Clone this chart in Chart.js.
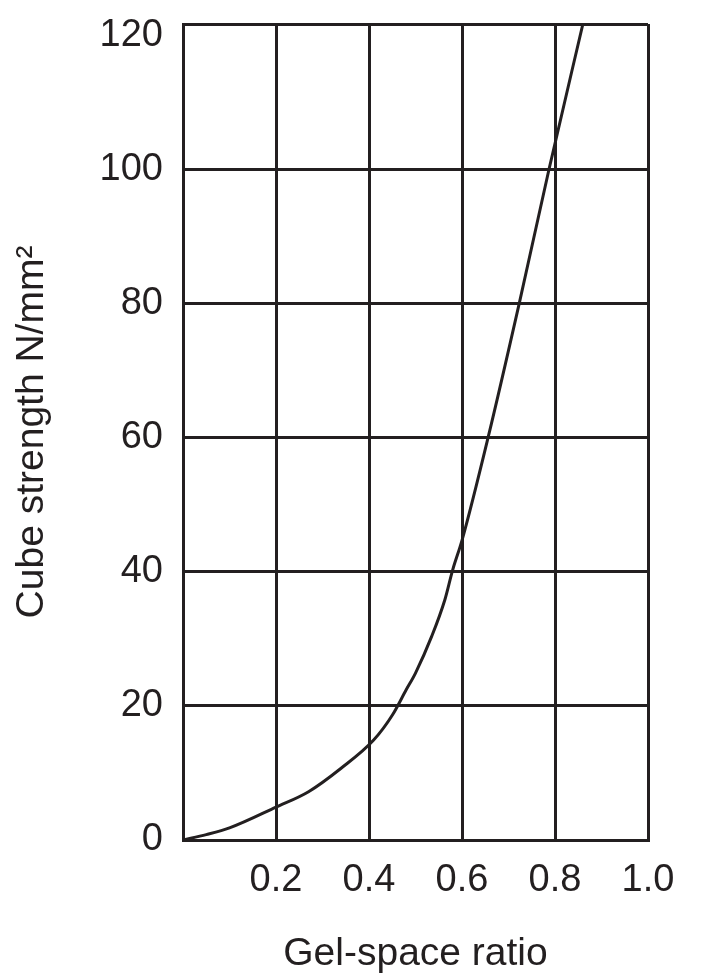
<!DOCTYPE html>
<html>
<head>
<meta charset="utf-8">
<script src="https://cdn.jsdelivr.net/npm/chart.js@4.4.0/dist/chart.umd.min.js"></script>
<style>
  body { margin: 0; background: #fff; }
  canvas { display: block; }
</style>
</head>
<body>
<canvas id="chart" width="720" height="978"></canvas>
<script>
// curve
var gelSpaceRatio = [0, 0.05, 0.1, 0.2, 0.27, 0.34, 0.41, 0.45, 0.48, 0.5, 0.535, 0.563, 0.58, 0.6, 0.656, 0.723, 0.787, 0.86];
var cubeStrength  = [0, 0.8, 1.8, 4.9, 7.2, 10.7, 14.9, 18.6, 22.4, 24.9, 30.4, 35.8, 40.3, 44.7, 60, 80, 100, 121.7];

var xTicks = [0, 0.2, 0.4, 0.6, 0.8, 1.0];
var yTicks = [0, 20, 40, 60, 80, 100, 120];
var yTop = 121.7;   // the box goes a little above the 120 label

var ink = '#231f20';
var fam = "'Liberation Sans', Arial, sans-serif";

var points = [];
for (var i = 0; i < gelSpaceRatio.length; i++) {
    points.push({x: gelSpaceRatio[i], y: cubeStrength[i]});
}

new Chart(document.getElementById('chart'), {
    type: 'line',
    data: {
        datasets: [{
            data: points,
            borderColor: ink,
            borderWidth: 3,
            pointRadius: 0,
            cubicInterpolationMode: 'monotone',
            fill: false
        }]
    },
    options: {
        responsive: false,
        animation: false,
        layout: { padding: { left: 0, right: 72, top: 24, bottom: 0 } },
        plugins: { legend: { display: false }, tooltip: { enabled: false } },
        scales: {
            x: {
                type: 'linear',
                min: 0,
                max: 1,
                afterBuildTicks: function(scale) {
                    scale.ticks = xTicks.map(function(v) { return {value: v}; });
                },
                afterFit: function(scale) {
                    scale.height = 138;
                    scale.paddingLeft = 0;
                    scale.paddingRight = 0;
                },
                grid: { color: ink, lineWidth: 3, drawTicks: false },
                border: { color: ink, width: 3 },
                ticks: {
                    color: ink,
                    padding: 18,
                    maxRotation: 0,
                    font: { family: fam, size: 38 },
                    callback: function(v) { return v === 0 ? '' : v.toFixed(1); }
                },
                title: {
                    display: true,
                    text: 'Gel-space ratio',
                    color: ink,
                    font: { family: fam, size: 39 },
                    padding: { top: 13, bottom: 0 }
                }
            },
            y: {
                min: 0,
                max: yTop,
                afterBuildTicks: function(scale) {
                    scale.ticks = yTicks.concat([yTop]).map(function(v) { return {value: v}; });
                },
                afterFit: function(scale) {
                    scale.width = 183;
                    scale.paddingTop = 0;
                    scale.paddingBottom = 0;
                },
                grid: {
                    drawTicks: false,
                    lineWidth: 3,
                    color: function(ctx) {
                        return ctx.tick && ctx.tick.value === 120 ? 'rgba(0,0,0,0)' : ink;
                    }
                },
                border: { color: ink, width: 3 },
                ticks: {
                    color: ink,
                    padding: 20,
                    font: { family: fam, size: 38 },
                    callback: function(v) { return v === yTop ? '' : v; }
                },
                title: {
                    display: true,
                    text: 'Cube strength N/mm\u00b2',
                    color: ink,
                    font: { family: fam, size: 39 },
                    padding: { top: 9, bottom: 0 }
                }
            }
        }
    }
});
</script>
</body>
</html>
